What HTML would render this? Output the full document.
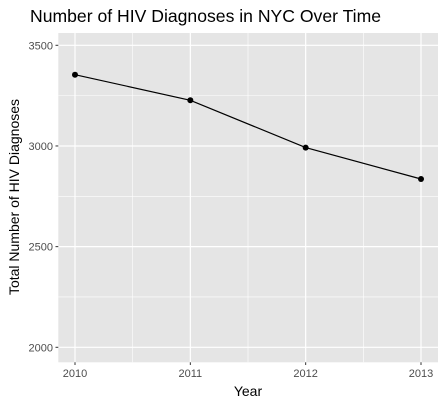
<!DOCTYPE html>
<html><head><meta charset="utf-8"><style>
body{margin:0;background:#fff;font-family:"Liberation Sans",sans-serif}
</style></head><body>
<svg width="446" height="406" xmlns="http://www.w3.org/2000/svg" font-family="Liberation Sans, sans-serif">
<text x="30" y="22" font-size="17.6" fill="#000">Number of HIV Diagnoses in NYC Over Time</text>
<rect x="58.3" y="33" width="379.7" height="329.3" fill="#e5e5e5"/>
<g id="grid"></g>
<g id="axes"></g>
<g id="series"></g>
<text x="248" y="396" font-size="14" text-anchor="middle">Year</text>
<text transform="translate(19,197) rotate(-90)" font-size="14" text-anchor="middle">Total Number of HIV Diagnoses</text>
</svg>
<script>
const years=[2010,2011,2012,2013];
const diagnoses=[3354,3227,2992,2836];
const yTicks=[2000,2500,3000,3500];
const NS="http://www.w3.org/2000/svg";
const x=v=>75+(v-2010)*(421-75)/3;
const y=v=>45.3+(3500-v)*(347.3-45.3)/1500;
function mk(t,a,p){const e=document.createElementNS(NS,t);for(const k in a)e.setAttribute(k,a[k]);p.appendChild(e);return e;}
const g=document.getElementById('grid'),ax=document.getElementById('axes'),s=document.getElementById('series');
for(let i=0;i<yTicks.length-1;i++){const m=(yTicks[i]+yTicks[i+1])/2;const l=mk('line',{x1:58.3,x2:438,y1:y(m),y2:y(m),stroke:'#fff','stroke-width':0.6},g);

}
for(let i=0;i<years.length-1;i++){const m=(years[i]+years[i+1])/2;const l=mk('line',{y1:33,y2:362.3,x1:x(m),x2:x(m),stroke:'#fff','stroke-width':0.6},g);

}
yTicks.forEach(v=>{const l=mk('line',{x1:58.3,x2:438,y1:y(v),y2:y(v),stroke:'#fff','stroke-width':1.2},g);


mk('line',{x1:55.5,x2:58.3,y1:y(v),y2:y(v),stroke:'#333','stroke-width':1},ax);
const t=mk('text',{x:53,y:y(v)+4,'font-size':11,fill:'#4d4d4d','text-anchor':'end'},ax);t.textContent=v;

});
years.forEach(v=>{const l=mk('line',{y1:33,y2:362.3,x1:x(v),x2:x(v),stroke:'#fff','stroke-width':1.2},g);


mk('line',{y1:362.3,y2:365,x1:x(v),x2:x(v),stroke:'#333','stroke-width':1},ax);
const t=mk('text',{x:x(v),y:377,'font-size':11,fill:'#4d4d4d','text-anchor':'middle'},ax);t.textContent=v;

});
const p=mk('polyline',{points:years.map((v,i)=>x(v)+','+y(diagnoses[i])).join(' '),fill:'none',stroke:'#000','stroke-width':1.2},s);


years.forEach((v,i)=>{const c=mk('circle',{cx:x(v),cy:y(diagnoses[i]),r:3,fill:'#000'},s);

});
</script>
</body></html>
